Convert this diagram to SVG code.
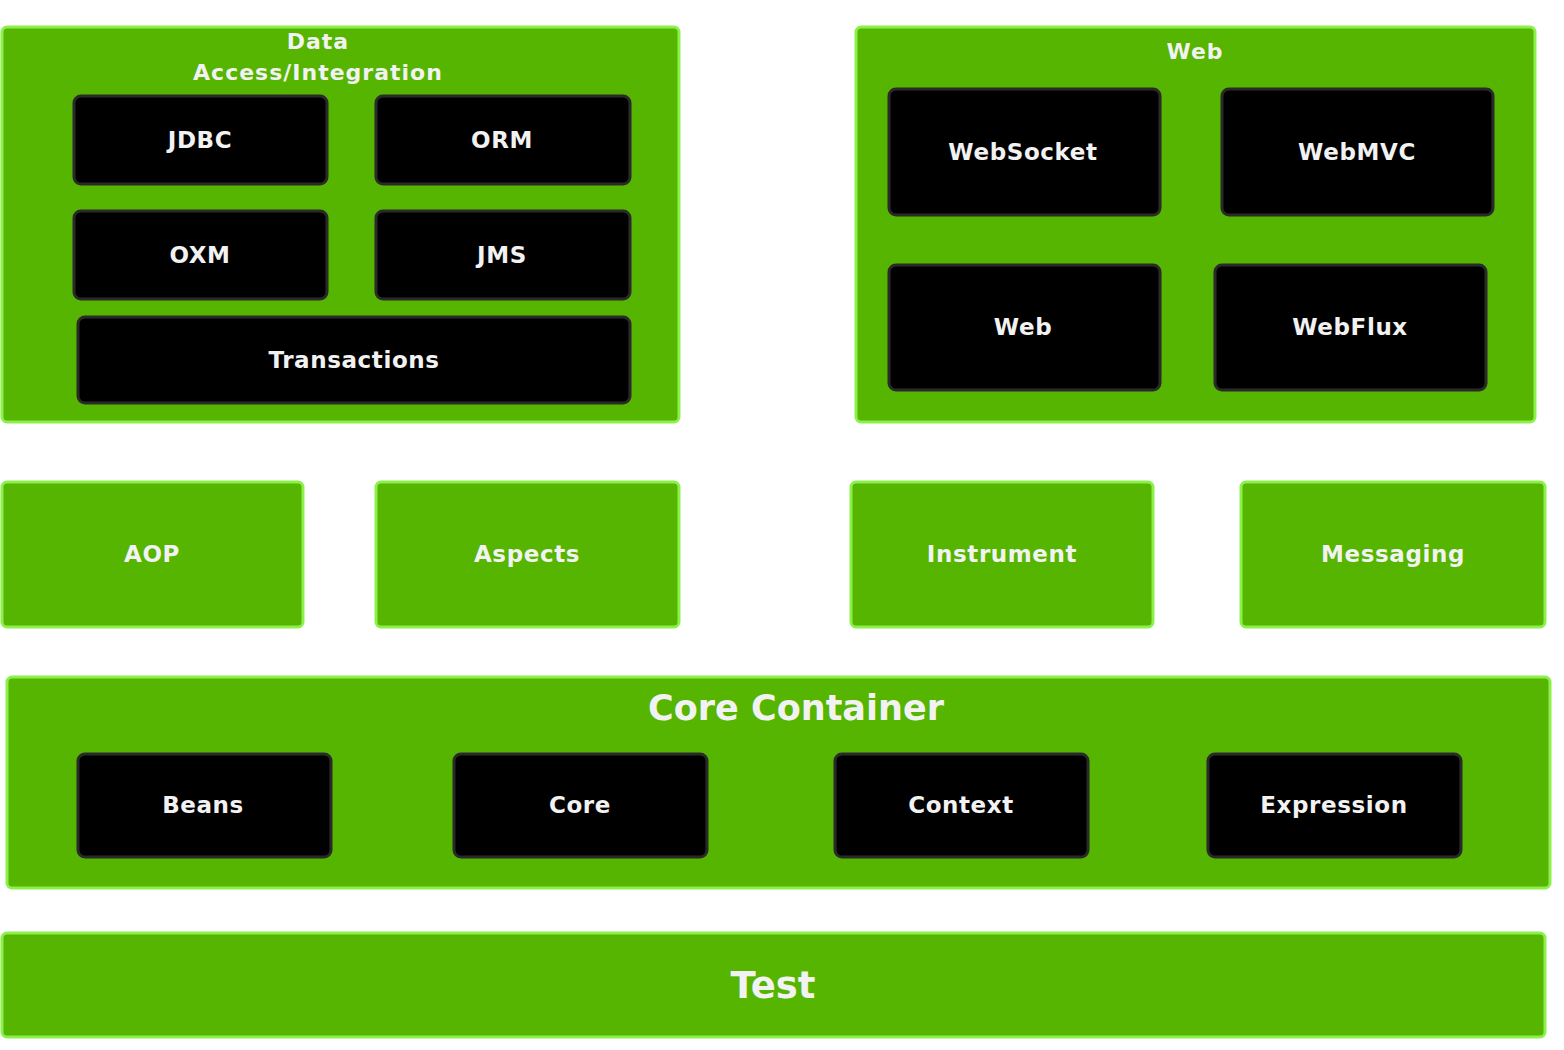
<svg xmlns="http://www.w3.org/2000/svg" width="1564" height="1050" viewBox="0 0 1564 1050">
<style>
.g{fill:#55b500;stroke:#8cf04a;stroke-width:3}
.b{fill:#000;stroke:#2a2a2a;stroke-width:3}
text{font-family:"DejaVu Sans","Verdana",sans-serif;font-weight:bold;fill:#f2f2f2;text-anchor:middle;dominant-baseline:central}
.s{font-size:23px;letter-spacing:0.6px}
.t{font-size:22px;letter-spacing:1px}
.L{font-size:37px}
.C{font-size:35px}
</style>
<rect width="1564" height="1050" fill="#fff"/>
<g id="data-access">
<rect class="g" x="2" y="27" width="677" height="395" rx="5"/>
<text class="t" x="318" y="41">Data</text>
<text class="t" x="318" y="72">Access/Integration</text>
</g>
<g id="jdbc"><rect class="b" x="74" y="96" width="253" height="88" rx="7"/><text class="s" x="200" y="140">JDBC</text></g>
<g id="orm"><rect class="b" x="376" y="96" width="254" height="88" rx="7"/><text class="s" x="502" y="140">ORM</text></g>
<g id="oxm"><rect class="b" x="74" y="211" width="253" height="88" rx="7"/><text class="s" x="200" y="255">OXM</text></g>
<g id="jms"><rect class="b" x="376" y="211" width="254" height="88" rx="7"/><text class="s" x="502" y="255">JMS</text></g>
<g id="transactions"><rect class="b" x="78" y="317" width="552" height="86" rx="7"/><text class="s" x="354" y="360">Transactions</text></g>

<g id="web-group">
<rect class="g" x="856" y="27" width="679" height="395" rx="5"/>
<text class="t" x="1195" y="51">Web</text>
</g>
<g id="websocket"><rect class="b" x="889" y="89" width="271" height="126" rx="7"/><text class="s" x="1023" y="152">WebSocket</text></g>
<g id="webmvc"><rect class="b" x="1222" y="89" width="271" height="126" rx="7"/><text class="s" x="1357" y="152">WebMVC</text></g>
<g id="web"><rect class="b" x="889" y="265" width="271" height="125" rx="7"/><text class="s" x="1023" y="327">Web</text></g>
<g id="webflux"><rect class="b" x="1215" y="265" width="271" height="125" rx="7"/><text class="s" x="1350" y="327">WebFlux</text></g>

<g id="aop"><rect class="g" x="2" y="482" width="301" height="145" rx="5"/><text class="s" x="152" y="554">AOP</text></g>
<g id="aspects"><rect class="g" x="376" y="482" width="303" height="145" rx="5"/><text class="s" x="527" y="554">Aspects</text></g>
<g id="instrument"><rect class="g" x="851" y="482" width="302" height="145" rx="5"/><text class="s" x="1002" y="554">Instrument</text></g>
<g id="messaging"><rect class="g" x="1241" y="482" width="304" height="145" rx="5"/><text class="s" x="1393" y="554">Messaging</text></g>

<g id="core-container">
<rect class="g" x="7" y="677" width="1543" height="211" rx="5"/>
<text class="C" x="796" y="708">Core  Container</text>
</g>
<g id="beans"><rect class="b" x="78" y="754" width="253" height="103" rx="7"/><text class="s" x="203" y="805">Beans</text></g>
<g id="core"><rect class="b" x="454" y="754" width="253" height="103" rx="7"/><text class="s" x="580" y="805">Core</text></g>
<g id="context"><rect class="b" x="835" y="754" width="253" height="103" rx="7"/><text class="s" x="961" y="805">Context</text></g>
<g id="expression"><rect class="b" x="1208" y="754" width="253" height="103" rx="7"/><text class="s" x="1334" y="805">Expression</text></g>

<g id="test"><rect class="g" x="2" y="933" width="1543" height="104" rx="5"/><text class="L" x="773" y="985">Test</text></g>
<g id="connectors"></g>
</svg>
